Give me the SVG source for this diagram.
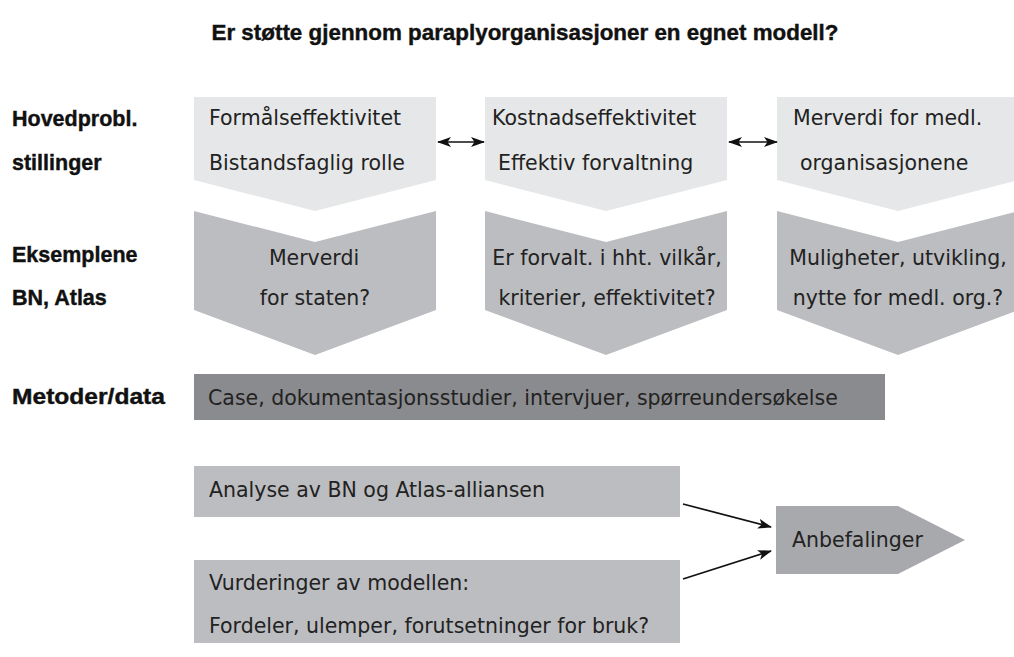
<svg xmlns="http://www.w3.org/2000/svg" width="1014" height="657" viewBox="0 0 1014 657">
<style>
.lab{font-family:"Liberation Sans",Arial,sans-serif;font-weight:bold;font-size:21.5px;fill:#111;stroke:#111;stroke-width:0.4}
.t{font-family:"DejaVu Sans",sans-serif;font-size:20.5px;fill:#222}
.c{text-anchor:middle}
.top{fill:#e6e7e8}
.mid{fill:#bcbdc0}
.dark{fill:#8a8b8e}
.rec{fill:#a8a9ac}
.ln{stroke:#111;stroke-width:1.7;fill:none}
</style>
<defs>
<marker id="ah" viewBox="0 0 14 10" refX="13" refY="5" markerWidth="14" markerHeight="10" markerUnits="userSpaceOnUse" orient="auto-start-reverse">
<path d="M0,0 L14,5 L0,10 L3.5,5 Z" fill="#111"/>
</marker>
</defs>
<text class="lab" x="525" y="40" text-anchor="middle" textLength="627" lengthAdjust="spacingAndGlyphs">Er støtte gjennom paraplyorganisasjoner en egnet modell?</text>
<g id="labels">
<text class="lab" x="12" y="126">Hovedprobl.</text>
<text class="lab" x="12" y="170">stillinger</text>
<text class="lab" x="12" y="262">Eksemplene</text>
<text class="lab" x="12" y="305">BN, Atlas</text>
<text class="lab" x="12" y="404" textLength="153" lengthAdjust="spacingAndGlyphs">Metoder/data</text>
</g>
<g id="top1"><polygon class="top" points="194,97 436,97 436,180 315,211 194,180"/>
<text class="t" x="209" y="125">Formålseffektivitet</text>
<text class="t" x="209" y="170">Bistandsfaglig rolle</text></g>
<g id="top2"><polygon class="top" points="485,97 727,97 727,180 606,211 485,180"/>
<text class="t" x="492" y="125">Kostnadseffektivitet</text>
<text class="t" x="498" y="170">Effektiv forvaltning</text></g>
<g id="top3"><polygon class="top" points="777,97 1019,97 1019,180 898,211 777,180"/>
<text class="t" x="793" y="125">Merverdi for medl.</text>
<text class="t" x="800" y="170">organisasjonene</text></g>
<g id="mid1"><polygon class="mid" points="194,211 315,242 436,211 436,310 315,355 194,310"/>
<text class="t c" x="314" y="265">Merverdi</text>
<text class="t c" x="315" y="305">for staten?</text></g>
<g id="mid2"><polygon class="mid" points="485,211 606,242 727,211 727,310 606,355 485,310"/>
<text class="t c" x="607" y="265">Er forvalt. i hht. vilkår,</text>
<text class="t c" x="607" y="305">kriterier, effektivitet?</text></g>
<g id="mid3"><polygon class="mid" points="777,211 898,242 1019,211 1019,310 898,355 777,310"/>
<text class="t c" x="898" y="265">Muligheter, utvikling,</text>
<text class="t c" x="898" y="305">nytte for medl. org.?</text></g>
<g id="methods"><rect class="dark" x="194" y="374" width="691" height="46"/>
<text class="t" x="208" y="405">Case, dokumentasjonsstudier, intervjuer, spørreundersøkelse</text></g>
<g id="analyse"><rect class="mid" x="194" y="466" width="486" height="51"/>
<text class="t" x="209" y="497">Analyse av BN og Atlas-alliansen</text></g>
<g id="vurdering"><rect class="mid" x="194" y="560" width="486" height="83"/>
<text class="t" x="209" y="590">Vurderinger av modellen:</text>
<text class="t" x="209" y="633">Fordeler, ulemper, forutsetninger for bruk?</text></g>
<g id="anbefalinger"><polygon class="rec" points="776,506 898,506 965,540 898,574 776,574"/>
<text class="t" x="792" y="547">Anbefalinger</text></g>
<g id="connectors">
<line class="ln" x1="438" y1="142" x2="484" y2="142" marker-start="url(#ah)" marker-end="url(#ah)"/>
<line class="ln" x1="729" y1="142" x2="777" y2="142" marker-start="url(#ah)" marker-end="url(#ah)"/>
<line class="ln" x1="683" y1="504" x2="771" y2="527" marker-end="url(#ah)"/>
<line class="ln" x1="683" y1="579" x2="771" y2="551" marker-end="url(#ah)"/>
</g>
</svg>
